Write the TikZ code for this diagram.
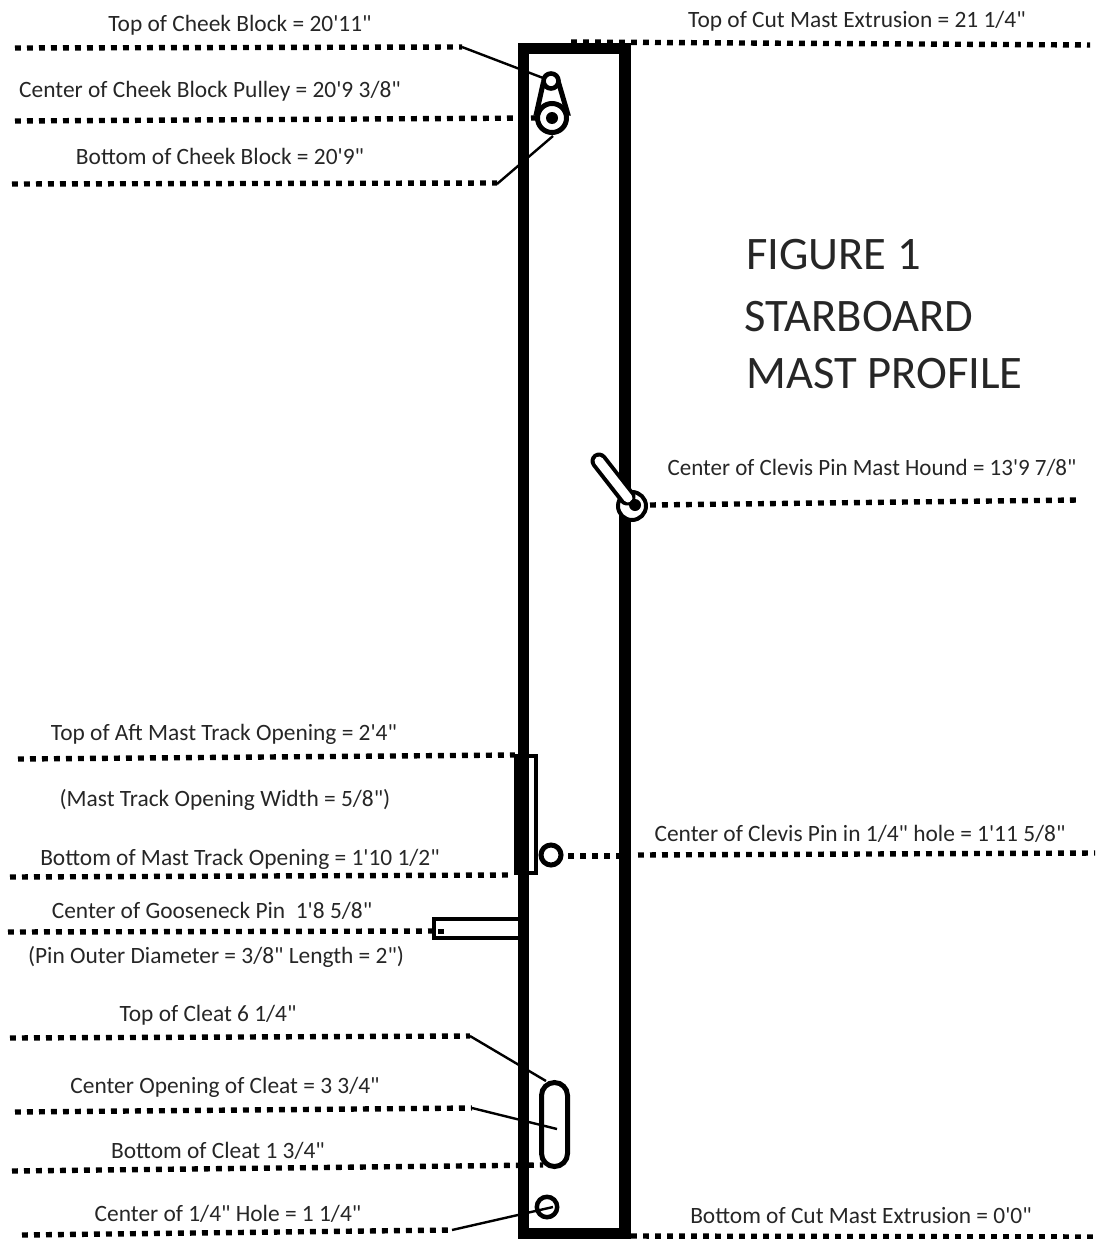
\documentclass[tikz,border=0pt]{standalone}
\usepackage{fontspec}
\newfontfamily\labelfont{Carlito}
\usetikzlibrary{calc,positioning}
\tikzset{
	lbl/.style={inner sep=0pt,font=\labelfont\fontsize{23.4}{26}\selectfont,text=black!85},
	title/.style={inner sep=0pt,anchor=west,font=\labelfont\fontsize{46.6}{50}\selectfont,text=black!85},
	dotline/.style={line width=5.4pt,dash pattern=on 5.8pt off 6.2pt},
	leader/.style={line width=2.4pt},
	part/.style={line width=5pt,fill=white},
}
\begin{document}
\begin{tikzpicture}[x=1pt,y=-1pt]
	\useasboundingbox (0,0) rectangle (1095,1239);

% rayas de puntos
	\foreach \xa/\ya/\xb/\yb in {
		15/48/462/47, 15/121/538/118, 12/184/497/183, 571/42/1090/45,
		650/505/1078/500, 18/759/515/755, 10/877/512/875, 568/856/620/856,
		638/855/1095/853, 8/932/443/931, 10/1038/470/1036, 15/1112/472/1108,
		12/1171/543/1165, 22/1235/452/1230, 631/1236/1095/1237}
		\draw[dotline] (\xa,\ya) -- (\xb,\yb);

% mastil
	\draw[line width=11.5pt,line cap=butt] (523.5,48.5) rectangle (625,1233.5);

% guias
	\coordinate (cheektop) at (462,47);
	\coordinate (cheekbot) at (497,184);
	\coordinate (cleattop) at (470,1036);
	\coordinate (cleatmid) at (472,1108);
	\coordinate (holeleft) at (452,1230);

% cheek block
	\coordinate (pulley) at (552,118);
	\coordinate (becket) at (551,81);
	\draw[part] (543,84) -- (536.5,113) -- (567.5,113) -- (559,84) -- cycle;
	\draw[part] (pulley) circle (14.5);
	\fill (pulley) circle (6);
	\draw[leader] (cheektop) -- (becket);
	\draw[part,line width=4.6pt] (becket) circle (7.5);
	\draw[leader] (cheekbot) -- (553,136);

% mast hound
	\coordinate (hound) at (632,506);
	\coordinate (houndpin) at (635,505);
	\draw[line width=4pt,fill=white] (hound) circle (14);
	\draw[line width=17pt,line cap=round] (599,461) -- (627,497);
	\draw[line width=9pt,white,line cap=round] (599,461) -- (628,498);
	\fill (houndpin) circle (6);

% mast track
	\fill (514,754) rectangle (529,875);
	\draw[line width=4pt] (516,756) rectangle (536,873);
	\fill[white] (529.5,758) rectangle (534,871);
	\draw[part] (551,855) circle (10);

% gooseneck
	\draw[line width=4pt,fill=white] (518,919) -- (434,919) -- (434,938) -- (518,938);
	\fill (438,928.5) rectangle (443.5,934);

% cleat
	\draw[line width=5pt,rounded corners=13pt] (541.5,1082.5) rectangle (567.5,1166.5);
	\coordinate (cleatin) at (557,1129);
	\coordinate (cleatup) at (546,1081);
	\draw[leader] (cleattop) -- (cleatup);
	\draw[leader] (cleatmid) -- (cleatin);
	\draw[line width=4.5pt] (547,1207) circle (10.2);
	\coordinate (holein) at (553,1207);
	\draw[leader] (holeleft) -- (holein);

% textos
	\node[lbl] (cheekt) at (240,25) {Top of Cheek Block = 20'11"};
	\node[lbl] (cheekc) at (210,91) {Center of Cheek Block Pulley = 20'9 3/8"};
	\node[lbl] (cheekb) at (220,156) {Bottom of Cheek Block = 20'9"};
	\node[lbl] (extrt) at (857,21) {Top of Cut Mast Extrusion = 21 1/4"};
	\node[lbl,xscale=0.983] (houndc) at (872,468) {Center of Clevis Pin Mast Hound = 13'9 7/8"};
	\node[lbl] (trackt) at (224,734) {Top of Aft Mast Track Opening = 2'4"};
	\node[lbl] (trackw) at (225,800) {(Mast Track Opening Width = 5/8")};
	\node[lbl] (trackb) at (240,859) {Bottom of Mast Track Opening = 1'10 1/2"};
	\node[lbl] (clevis) at (860,834) {Center of Clevis Pin in 1/4" hole = 1'11 5/8"};
	\node[lbl] (goosec) at (212,911) {Center of Gooseneck Pin\ \ 1'8 5/8"};
	\node[lbl] (goosed) at (216,957) {(Pin Outer Diameter = 3/8" Length = 2")};
	\node[lbl] (cleatt) at (208,1015) {Top of Cleat 6 1/4"};
	\node[lbl] (cleatc) at (225,1087) {Center Opening of Cleat = 3 3/4"};
	\node[lbl] (cleatb) at (218,1151) {Bottom of Cleat 1 3/4"};
	\node[lbl] (holec) at (228,1214) {Center of 1/4" Hole = 1 1/4"};
	\node[lbl] (extrb) at (861,1216) {Bottom of Cut Mast Extrusion = 0'0"};

	\node[title] (fig) at (746,255) {FIGURE 1};
	\node[title] (board) at (744,317) {STARBOARD};
	\node[title] (prof) at (746,374) {MAST PROFILE};
\end{tikzpicture}
\end{document}
